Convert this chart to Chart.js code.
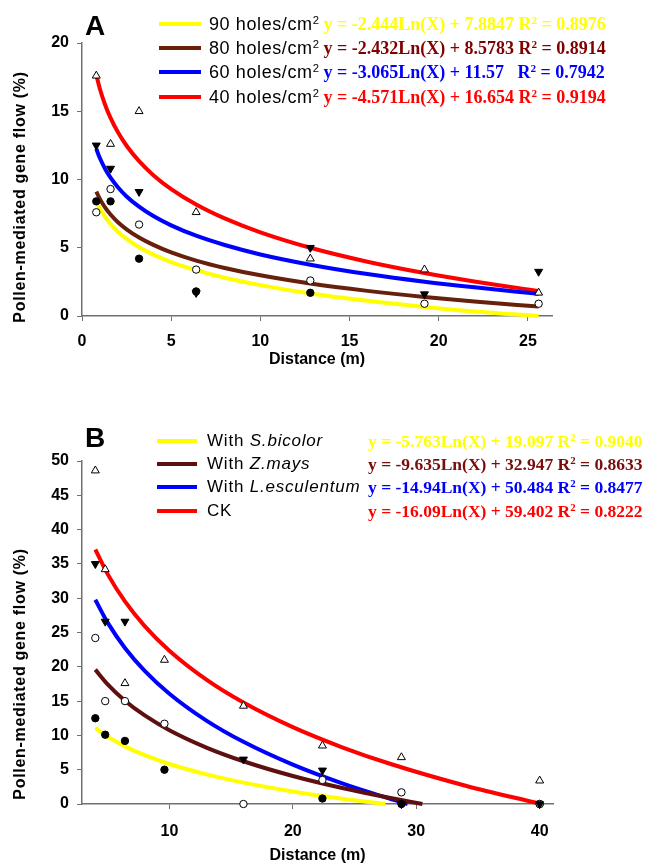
<!DOCTYPE html>
<html>
<head>
<meta charset="utf-8">
<script src="https://cdn.jsdelivr.net/npm/chart.js@4.4.1/dist/chart.umd.min.js"></script>
<style>
  body { margin: 0; background: #fff; }
  #page { position: relative; width: 648px; height: 865px; overflow: hidden; background: #fff;
          font-family: 'Liberation Sans', Arial, sans-serif; color: #000; }
  canvas { position: absolute; left: 0; }
  .lbl { position: absolute; white-space: nowrap; }
  .panel { font-weight: bold; font-size: 28px; line-height: 28px; }
  .ytitle { font-weight: bold; font-size: 16px; letter-spacing: 0.7px; line-height: 18px;
            transform: translate(-50%, -50%) rotate(-90deg); }
  .swatch { position: absolute; height: 4px; }
  .name { font-size: 17px; letter-spacing: 0.8px; line-height: 20px; transform: translateY(-50%); }
  .nameA { font-size: 18px; letter-spacing: 0.6px; }
  .eq { font-family: 'Liberation Serif', 'Times New Roman', serif; font-weight: bold;
        font-size: 17.5px; line-height: 20px; letter-spacing: 0; transform: translateY(-50%); }
  .eqA { font-size: 18px; margin-left: 4px; transform: none; position: static; }
  sup { font-size: 0.62em; line-height: 0; vertical-align: 0.55em; }
</style>
</head>
<body>
<div id="page">
  <canvas id="chartA" width="648" height="380" style="top:0"></canvas>
  <canvas id="chartB" width="648" height="445" style="top:420px"></canvas>
</div>
<script>
// Panel A: hole density treatments
const distA = [0.8, 1.6, 3.2, 6.4, 12.8, 19.2, 25.6];
const holes90 = [8.4, 8.4, 4.2, 1.8, 1.7, null, null];
const holes80 = [7.6, 9.3, 6.7, 3.4, 2.6, 0.9, 0.9];
const holes60 = [12.5, 10.8, 9.1, 1.7, 5.0, 1.6, 3.25];
const holes40 = [17.6, 12.6, 15.0, 7.6, 4.2, 3.4, 1.7];

// fitted log curves in panel A
const fitXA = [0.8, 1, 1.3, 1.6, 2, 2.5, 3.2, 4, 5, 6.4, 8, 10, 12.8, 16, 19.2, 22, 25.6];
const fit90A = [8.43, 7.88, 7.24, 6.74, 6.19, 5.65, 5.04, 4.50, 3.95, 3.35, 2.80, 2.26, 1.65, 1.11, 0.66, 0.33, 0];
const fit80A = [9.12, 8.58, 7.94, 7.44, 6.89, 6.35, 5.75, 5.21, 4.66, 4.06, 3.52, 2.98, 2.38, 1.84, 1.39, 1.06, 0.69];
const fit60A = [12.25, 11.57, 10.77, 10.13, 9.45, 8.76, 8.01, 7.32, 6.64, 5.88, 5.20, 4.51, 3.76, 3.07, 2.51, 2.10, 1.63];
const fit40A = [17.67, 16.65, 15.46, 14.51, 13.49, 12.47, 11.34, 10.32, 9.30, 8.17, 7.15, 6.13, 5.00, 3.98, 3.15, 2.53, 1.83];

const xTicksA = [0, 5, 10, 15, 20, 25];
const yTicksA = [0, 5, 10, 15, 20];
const namesA = ['90 holes/cm<sup>2</sup>', '80 holes/cm<sup>2</sup>', '60 holes/cm<sup>2</sup>', '40 holes/cm<sup>2</sup>'];
const eqA = [
    'y = -2.444Ln(X) + 7.8847 R<sup>2</sup> = 0.8976',
    'y = -2.432Ln(X) + 8.5783 R<sup>2</sup> = 0.8914',
    'y = -3.065Ln(X) + 11.57&nbsp;&nbsp; R<sup>2</sup> = 0.7942',
    'y = -4.571Ln(X) + 16.654 R<sup>2</sup> = 0.9194'
];

// Panel B: companion crop treatments
const distB = [4, 4.8, 6.4, 9.6, 16, 22.4, 28.8, 40];
const bicolorB = [12.5, 10.1, 9.2, 5.0, null, 0.8, 0, 0];
const maysB = [24.2, 15.0, 15.0, 11.7, 0, 3.5, 1.7, 0];
const esculentumB = [35.0, 26.6, 26.6, null, 6.5, 4.9, 0, 0];
const ckB = [48.6, 34.2, 17.6, 21.0, 14.3, 8.5, 6.8, 3.4];

const fitXBicolor = [4, 5, 6.4, 8, 10, 13, 16, 20, 24, 27.5];
const fitBicolor = [11.11, 9.82, 8.40, 7.11, 5.83, 4.32, 3.12, 1.83, 0.78, 0];
const fitXMays = [4, 5, 6.4, 8, 10, 13, 16, 20, 24, 27.5, 30.5];
const fitMays = [19.59, 17.44, 15.06, 12.91, 10.76, 8.23, 6.23, 4.08, 2.33, 1.02, 0];
const fitXEsc = [4, 5, 6.4, 8, 10, 13, 16, 20, 24, 27.5, 29.3];
const fitEsc = [29.77, 26.44, 22.75, 19.42, 16.08, 12.16, 9.06, 5.73, 3.00, 0.97, 0];
const fitXCk = [4, 5, 6.4, 8, 10, 13, 16, 20, 24, 28, 34, 40];
const fitCk = [37.10, 33.51, 29.53, 25.94, 22.35, 18.13, 14.79, 11.20, 8.27, 5.79, 2.66, 0.05];

const xTicksB = [10, 20, 30, 40];
const yTicksB = [0, 5, 10, 15, 20, 25, 30, 35, 40, 45, 50];
const namesB = ['With <i>S.bicolor</i>', 'With <i>Z.mays</i>', 'With <i>L.esculentum</i>', 'CK'];
const eqB = [
    'y = -5.763Ln(X) + 19.097 R<sup>2</sup> = 0.9040',
    'y = -9.635Ln(X) + 32.947 R<sup>2</sup> = 0.8633',
    'y = -14.94Ln(X) + 50.484 R<sup>2</sup> = 0.8477',
    'y = -16.09Ln(X) + 59.402 R<sup>2</sup> = 0.8222'
];

const lineColorsA = ['#ffff00', '#67200a', '#0000ff', '#ff0000'];
const textColorsA = ['#ffff00', '#800000', '#0000ff', '#ff0000'];
const lineColorsB = ['#ffff00', '#5e1010', '#0000ff', '#ff0000'];
const textColorsB = ['#ffff00', '#7a0c0c', '#0000ff', '#ff0000'];

const SANS = "'Liberation Sans', Arial, sans-serif";
const AXIS = '#707070';

function pts(xs, ys) {
    return xs.map((x, i) => ({ x: x, y: ys[i] }));
}

function fitSet(xs, ys, color) {
    return {
        type: 'line', data: pts(xs, ys), borderColor: color, borderWidth: 4,
        pointRadius: 0, cubicInterpolationMode: 'monotone', fill: false, clip: false, order: 2
    };
}

function markSet(ys, xs, style, filled, rot) {
    return {
        type: 'scatter', data: pts(xs, ys), pointStyle: style, rotation: rot || 0,
        pointRadius: style === 'circle' ? 3.7 : 4.6,
        backgroundColor: filled ? '#000' : '#fff', borderColor: '#000', borderWidth: 1,
        clip: false, order: 1
    };
}

function axisOptions(cfg) {
    const tickFont = { family: SANS, size: 16, weight: 'bold' };
    return {
        responsive: false,
        animation: false,
        devicePixelRatio: 1,
        layout: { padding: { left: 0, top: cfg.top, right: cfg.right, bottom: 0 } },
        plugins: { legend: { display: false }, tooltip: { enabled: false } },
        scales: {
            x: {
                type: 'linear', min: cfg.xMin, max: cfg.xMax,
                afterBuildTicks: s => { s.ticks = cfg.xTicks.map(v => ({ value: v })); },
                afterFit: s => { s.height = cfg.xHeight; },
                grid: { drawOnChartArea: false, drawTicks: true, tickLength: 5, color: AXIS, lineWidth: 1 },
                border: { display: true, color: AXIS, width: 1.5 },
                ticks: { color: '#000', font: tickFont, padding: cfg.tickPad, maxRotation: 0 },
                title: { display: true, text: 'Distance (m)', color: '#000',
                         font: { family: SANS, size: 16, weight: 'bold' },
                         padding: { top: 0, bottom: cfg.titlePad } }
            },
            y: {
                type: 'linear', min: 0, max: cfg.yMax,
                afterBuildTicks: s => { s.ticks = cfg.yTicks.map(v => ({ value: v })); },
                afterFit: s => { s.width = 82; },
                grid: { drawOnChartArea: false, drawTicks: true, tickLength: 5, color: AXIS, lineWidth: 1 },
                border: { display: true, color: AXIS, width: 1.5 },
                ticks: { color: '#000', font: tickFont, padding: 8 }
            }
        }
    };
}

new Chart(document.getElementById('chartA'), {
    type: 'scatter',
    data: {
        datasets: [
            markSet(holes40, distA, 'triangle', false),
            markSet(holes60, distA, 'triangle', true, 180),
            markSet(holes80, distA, 'circle', false),
            markSet(holes90, distA, 'circle', true),
            fitSet(fitXA, fit90A, lineColorsA[0]),
            fitSet(fitXA, fit80A, lineColorsA[1]),
            fitSet(fitXA, fit60A, lineColorsA[2]),
            fitSet(fitXA, fit40A, lineColorsA[3])
        ]
    },
    options: axisOptions({ xMin: 0, xMax: 26.35, xTicks: xTicksA, yMax: 20, yTicks: yTicksA,
                           top: 43, right: 96, xHeight: 64, titlePad: 11, tickPad: 11 })
});

new Chart(document.getElementById('chartB'), {
    type: 'scatter',
    data: {
        datasets: [
            markSet(ckB, distB, 'triangle', false),
            markSet(esculentumB, distB, 'triangle', true, 180),
            markSet(maysB, distB, 'circle', false),
            markSet(bicolorB, distB, 'circle', true),
            fitSet(fitXBicolor, fitBicolor, lineColorsB[0]),
            fitSet(fitXMays, fitMays, lineColorsB[1]),
            fitSet(fitXEsc, fitEsc, lineColorsB[2]),
            fitSet(fitXCk, fitCk, lineColorsB[3])
        ]
    },
    options: axisOptions({ xMin: 2.92, xMax: 41.08, xTicks: xTicksB, yMax: 50, yTicks: yTicksB,
                           top: 41, right: 95, xHeight: 61, titlePad: 0, tickPad: 13 })
});

// text overlays: panel letters, y titles, legends with equations
const page = document.getElementById('page');

function addLabel(cls, html, left, top, color) {
    const el = document.createElement('div');
    el.className = 'lbl ' + cls;
    el.innerHTML = html;
    el.style.left = left + 'px';
    el.style.top = top + 'px';
    if (color) el.style.color = color;
    page.appendChild(el);
    return el;
}

function addSwatch(left, width, y, color) {
    const sw = document.createElement('div');
    sw.className = 'swatch';
    sw.style.left = left + 'px';
    sw.style.width = width + 'px';
    sw.style.top = (y - 2) + 'px';
    sw.style.background = color;
    page.appendChild(sw);
}

// panel A: equation follows the label on the same line
function addLegendA(rows) {
    namesA.forEach((name, i) => {
        addSwatch(159, 42, rows[i], lineColorsA[i]);
        const row = addLabel('name nameA', name, 209, rows[i]);
        const eq = document.createElement('span');
        eq.className = 'eq eqA';
        eq.style.color = textColorsA[i];
        eq.innerHTML = eqA[i];
        row.appendChild(eq);
    });
}

// panel B: equations in their own left-aligned column
function addLegendB(rows) {
    namesB.forEach((name, i) => {
        addSwatch(157, 40, rows[i], lineColorsB[i]);
        addLabel('name', name, 207, rows[i]);
        addLabel('eq', eqB[i], 368, rows[i], textColorsB[i]);
    });
}

addLabel('panel', 'A', 85, 12);
addLabel('panel', 'B', 85, 424);
addLabel('ytitle', 'Pollen-mediated gene flow (%)', 20, 197);
addLabel('ytitle', 'Pollen-mediated gene flow (%)', 20, 674);
addLegendA([24, 48, 72, 97]);
addLegendB([441, 464, 487, 511]);
</script>
</body>
</html>
